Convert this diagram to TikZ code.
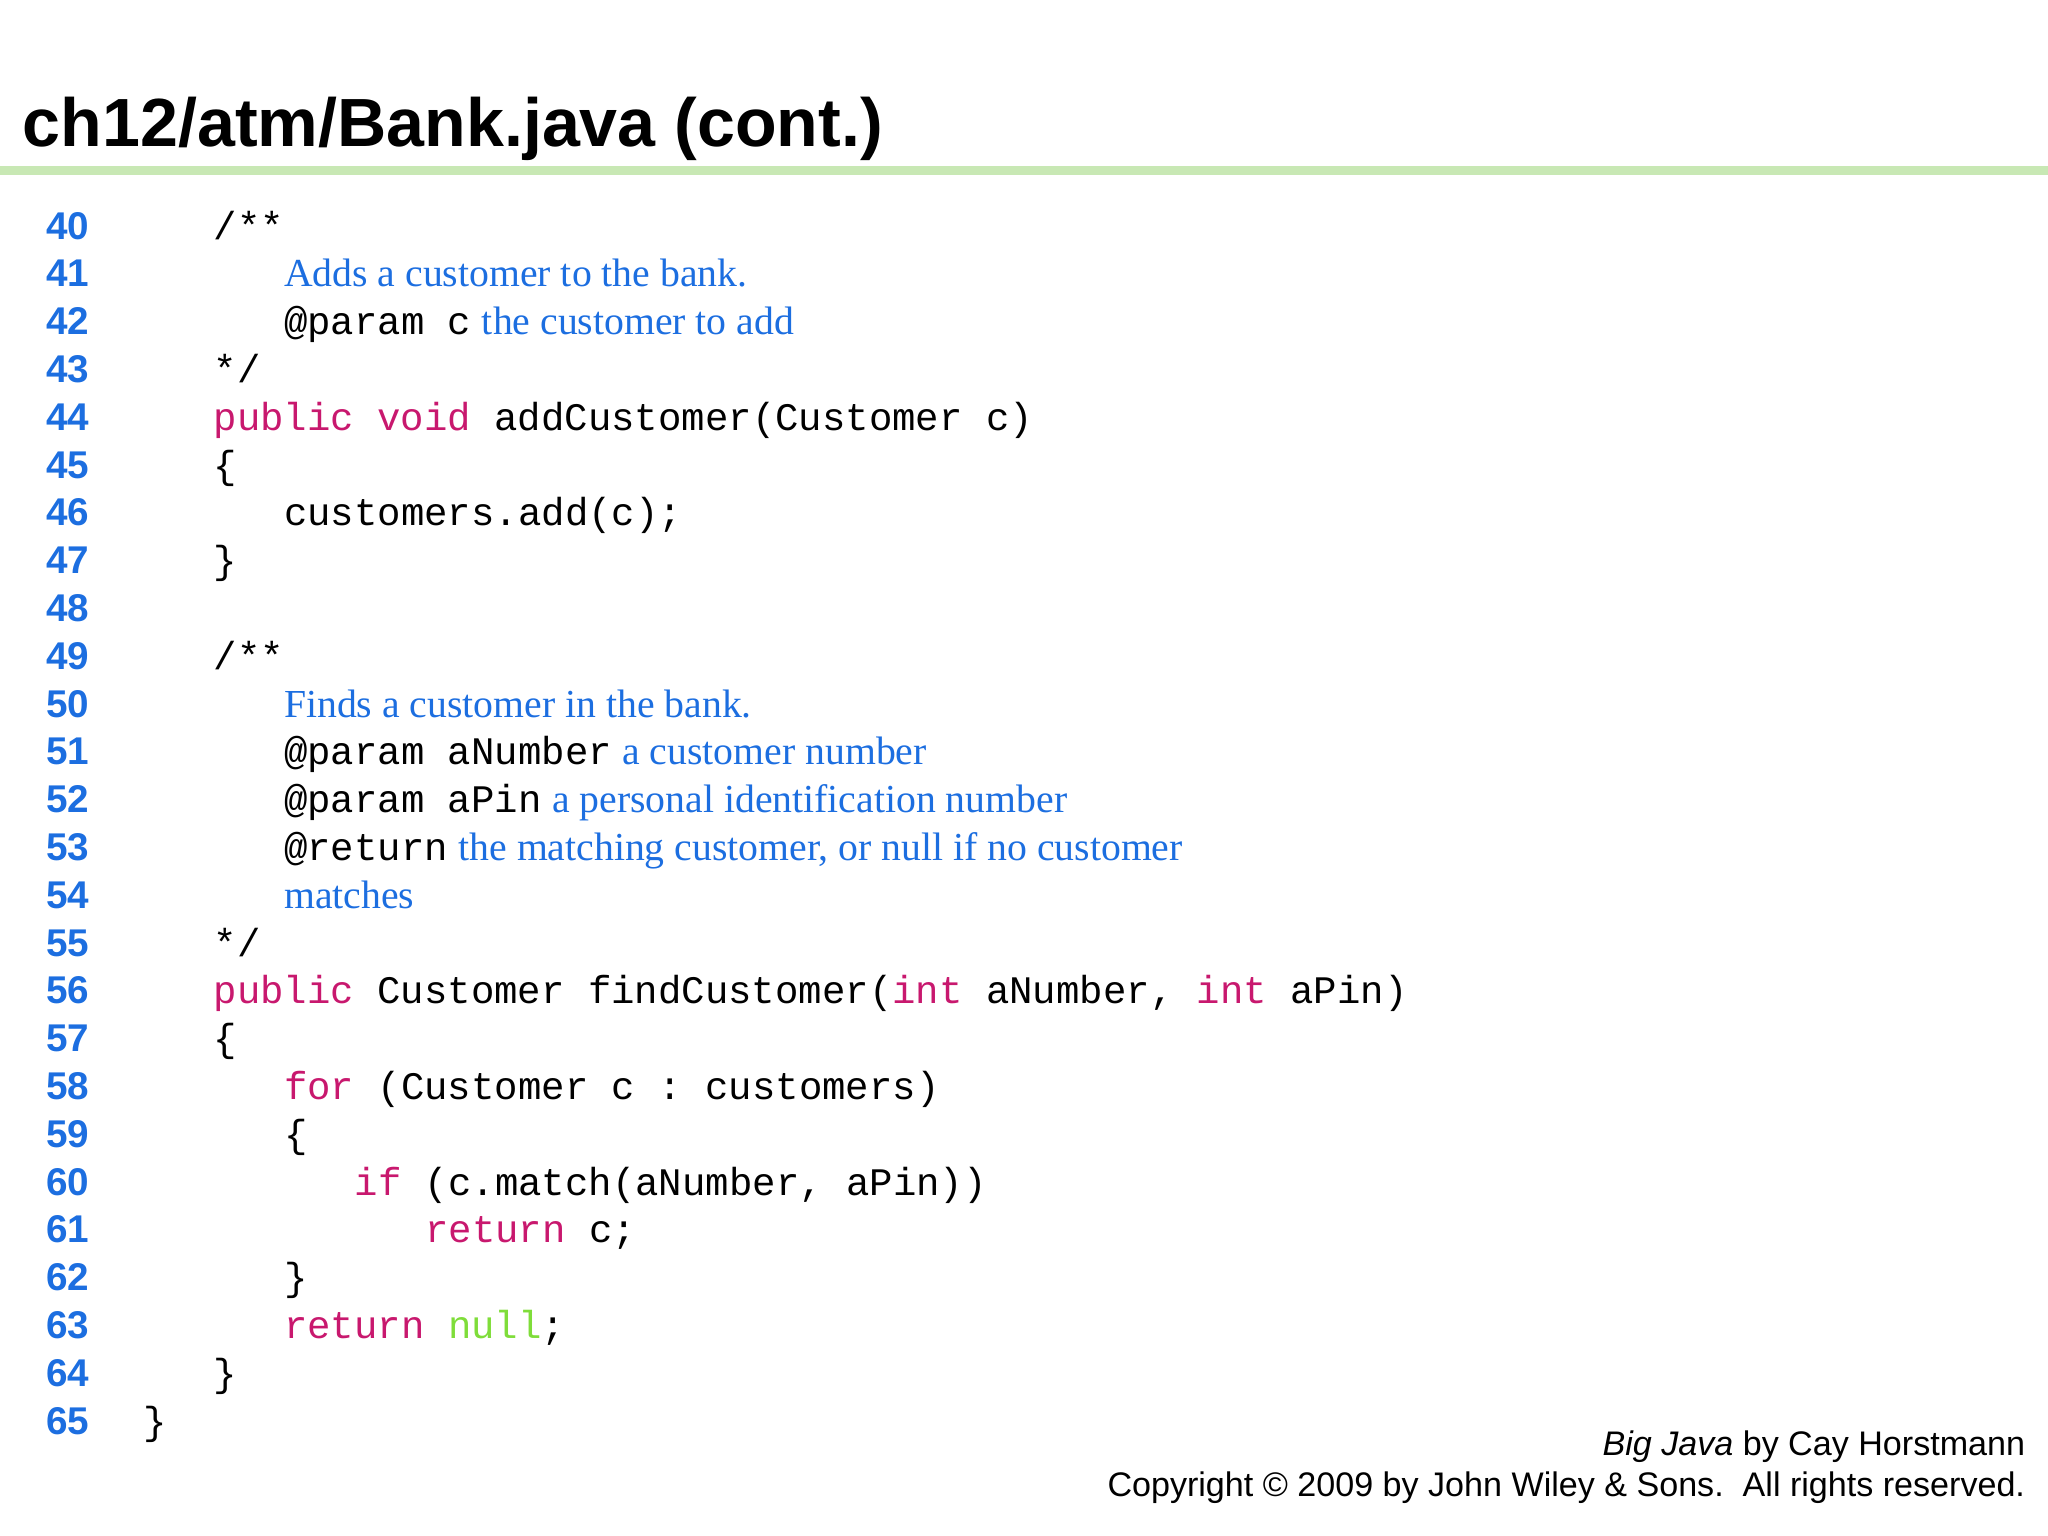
\documentclass[tikz,border=0pt]{standalone}
\usepackage{fontspec}
\setmainfont{Liberation Serif}
\setsansfont{Liberation Sans}
\setmonofont{Liberation Mono}
\definecolor{lnblue}{HTML}{1C6EE0}
\definecolor{cmt}{HTML}{1C6EE0}
\definecolor{kw}{HTML}{C8186E}
\definecolor{nl}{HTML}{7FDD3A}
\definecolor{rule}{HTML}{C8E8B4}
\newcommand{\K}[1]{\textcolor{kw}{#1}}
\newcommand{\C}[1]{{\rmfamily\fontsize{11.3}{13}\selectfont\textcolor{cmt}{#1}}}
\newcommand{\CL}[3]{\pgfmathsetmacro{\yy}{183+36.6*(#1-40)}\node[code] (c#1) at (#2,\yy) {#3};}
\begin{document}
\begin{tikzpicture}[x=0.013061cm,y=-0.013061cm,
  ln/.style={anchor=base west,inner sep=0,font=\sffamily\bfseries\fontsize{11}{13}\selectfont,text=lnblue},
  code/.style={anchor=base west,inner sep=0,font=\ttfamily\fontsize{11.1}{13}\selectfont}]
\useasboundingbox (0,0) rectangle (1568,1176);
\node[anchor=base west,inner sep=0,font=\sffamily\bfseries\fontsize{19.4}{23}\selectfont] (title) at (17,112) {ch12/atm/Bank.java (cont.)};
\fill[rule] (0,127) rectangle (1568,134);
\foreach \n [count=\i from 0] in {40,...,65} {
  \pgfmathsetmacro{\yy}{183+36.6*\i}
  \node[ln] (n\n) at (35,\yy) {\n};
}
\CL{40}{163}{/**}
\CL{41}{217}{\C{Adds a customer to the bank.}}
\CL{42}{217}{@param c\hspace{3pt}\C{the customer to add}}
\CL{43}{163}{*/}
\CL{44}{163}{\K{public} \K{void} addCustomer(Customer c)}
\CL{45}{163}{\{}
\CL{46}{217}{customers.add(c);}
\CL{47}{163}{\}}
\CL{49}{163}{/**}
\CL{50}{217}{\C{Finds a customer in the bank.}}
\CL{51}{217}{@param aNumber\hspace{3pt}\C{a customer number}}
\CL{52}{217}{@param aPin\hspace{3pt}\C{a personal identification number}}
\CL{53}{217}{@return\hspace{3pt}\C{the matching customer, or null if no customer}}
\CL{54}{217}{\C{matches}}
\CL{55}{163}{*/}
\CL{56}{163}{\K{public} Customer findCustomer(\K{int} aNumber, \K{int} aPin)}
\CL{57}{163}{\{}
\CL{58}{217}{\K{for} (Customer c : customers)}
\CL{59}{217}{\{}
\CL{60}{271}{\K{if} (c.match(aNumber, aPin))}
\CL{61}{325}{\K{return} c;}
\CL{62}{217}{\}}
\CL{63}{217}{\K{return} \textcolor{nl}{null};}
\CL{64}{163}{\}}
\CL{65}{109}{\}}
\node[anchor=base east,inner sep=0,font=\sffamily\fontsize{9.7}{12}\selectfont] (f1) at (1551,1114) {\textit{Big Java} by Cay Horstmann};
\node[anchor=base east,inner sep=0,font=\sffamily\fontsize{9.7}{12}\selectfont] (f2) at (1551,1146) {Copyright © 2009 by John Wiley \& Sons.\ \ All rights reserved.};
\end{tikzpicture}
\end{document}
